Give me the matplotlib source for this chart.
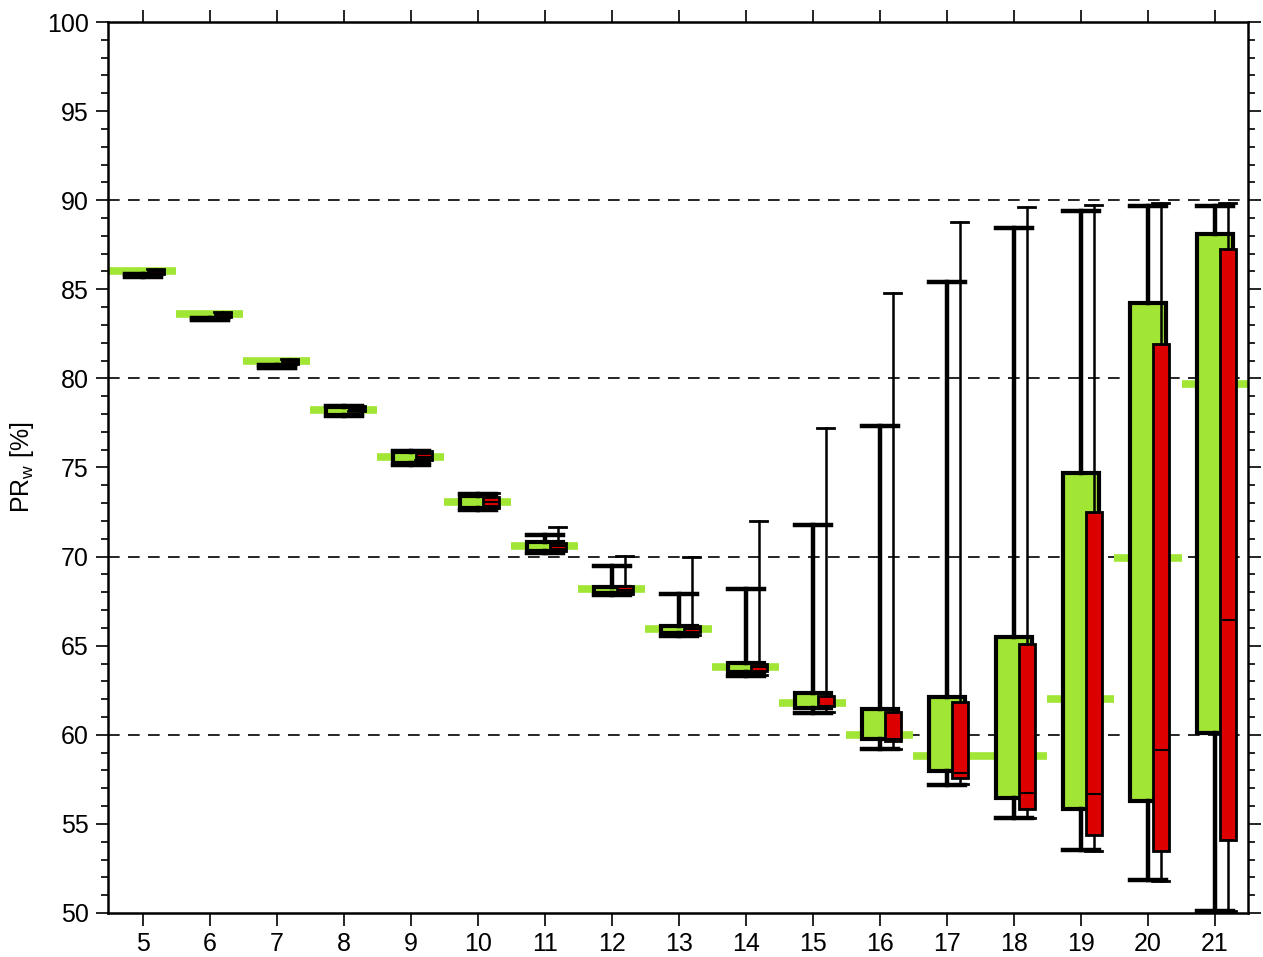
import matplotlib
matplotlib.use("Agg")
import matplotlib.pyplot as plt
from matplotlib.ticker import MultipleLocator

plt.rcParams['font.family'] = ['Liberation Sans', 'DejaVu Sans']
plt.rcParams['mathtext.fontset'] = 'custom'
plt.rcParams['mathtext.rm'] = 'Liberation Sans'

# --- data ---
cats = [5, 6, 7, 8, 9, 10, 11, 12, 13, 14, 15, 16, 17, 18, 19, 20, 21]
ref = [86.0, 83.6, 80.95, 78.25, 75.6, 73.05, 70.6, 68.2, 65.95, 63.8,
       61.8, 60.0, 58.8, 58.8, 62.0, 69.9, 79.7]

green_lo = [85.7, 83.25, 80.57, 77.9, 75.15, 72.6, 70.2, 67.85, 65.55, 63.32,
            61.2, 59.2, 57.2, 55.35, 53.55, 51.85, 50.1]
green_q1 = [85.75, 83.28, 80.6, 77.95, 75.25, 72.7, 70.3, 67.95, 65.73, 63.55,
            61.5, 59.75, 57.95, 56.45, 55.85, 56.3, 60.1]
green_q3 = [85.8, 83.35, 80.72, 78.4, 75.85, 73.4, 70.8, 68.3, 66.1, 64.05,
            62.35, 61.45, 62.1, 65.5, 74.7, 84.25, 88.1]
green_hi = [85.85, 83.38, 80.75, 78.45, 75.95, 73.5, 71.2, 69.45, 67.9, 68.16,
            71.8, 77.35, 85.4, 88.45, 89.4, 89.7, 89.65]

red_lo = [85.85, 83.43, 80.8, 78.15, 75.4, 72.75, 70.3, 67.9, 65.6, 63.35,
          61.26, 59.2, 57.25, 55.35, 53.5, 51.8, 50.1]
red_q1 = [85.9, 83.5, 80.85, 78.2, 75.5, 72.85, 70.45, 68.0, 65.75, 63.6,
          61.6, 59.65, 57.6, 55.85, 54.4, 53.5, 54.1]
red_med = [86.0, 83.6, 80.95, 78.3, 75.6, 73.05, 70.6, 68.15, 65.95, 63.8,
           61.62, 59.75, 57.85, 56.75, 56.65, 59.15, 66.45]
red_q3 = [86.1, 83.68, 81.02, 78.4, 75.8, 73.35, 70.75, 68.35, 66.1, 64.0,
          62.2, 61.3, 61.85, 65.1, 72.5, 81.95, 87.25]
red_hi = [86.15, 83.72, 81.07, 78.45, 75.95, 73.55, 71.65, 70.05, 70.0, 72.01,
          77.2, 84.8, 88.75, 89.6, 89.75, 89.85, 89.85]

green_col = '#a2e635'
red_col = '#dd0000'

fig = plt.figure(figsize=(12.63, 9.57), dpi=100)
ax = fig.add_axes([0.0855, 0.046, 0.9025, 0.931])

# reference grid lines
for yv in [60, 70, 80, 90]:
    ax.axhline(yv, color='black', lw=1.2, ls=(0, (7, 5)), zorder=1)

# reference markers
ax.hlines(ref, [c - 0.5 for c in cats], [c + 0.5 for c in cats],
          color=green_col, lw=5.5, zorder=2)

green_stats = [dict(whislo=lo, q1=q1, med=q1, q3=q3, whishi=hi, fliers=[])
               for lo, q1, q3, hi in zip(green_lo, green_q1, green_q3, green_hi)]
red_stats = [dict(whislo=lo, q1=q1, med=md, q3=q3, whishi=hi, fliers=[])
             for lo, q1, md, q3, hi in zip(red_lo, red_q1, red_med, red_q3, red_hi)]

gb = ax.bxp(green_stats, positions=cats, widths=0.54, capwidths=0.54,
            patch_artist=True, showfliers=False, manage_ticks=False,
            boxprops=dict(facecolor=green_col, edgecolor='black', linewidth=3.0),
            whiskerprops=dict(color='black', linewidth=3.2),
            capprops=dict(color='black', linewidth=3.2),
            medianprops=dict(visible=False))
for art in gb['boxes'] + gb['whiskers'] + gb['caps']:
    art.set_zorder(3)

rpos = [c + 0.19 for c in cats]
rb = ax.bxp(red_stats, positions=rpos, widths=0.24, capwidths=0.25,
            patch_artist=True, showfliers=False, manage_ticks=False,
            boxprops=dict(facecolor=red_col, edgecolor='black', linewidth=2.0),
            whiskerprops=dict(color='black', linewidth=1.8),
            capprops=dict(color='black', linewidth=2.0),
            medianprops=dict(color='black', linewidth=1.5))
for art in rb['boxes'] + rb['whiskers'] + rb['caps'] + rb['medians']:
    art.set_zorder(4)

ax.set_xlim(4.48, 21.49)
ax.set_ylim(50, 100)
ax.set_xticks(cats)
ax.set_xticklabels([str(c) for c in cats])
ax.yaxis.set_major_locator(MultipleLocator(5))
ax.yaxis.set_minor_locator(MultipleLocator(1))

ax.tick_params(axis='both', which='major', direction='out', length=9, width=1.2,
               labelsize=18, pad=5)
ax.tick_params(axis='y', which='minor', direction='out', length=5, width=1.2)
ax.tick_params(axis='x', top=True, labeltop=False)
ax.tick_params(axis='y', which='both', right=True, labelright=False)
for sp in ax.spines.values():
    sp.set_linewidth(1.8)

ax.set_ylabel('PR$_\\mathregular{w}$ [%]', fontsize=18, labelpad=8)

fig.savefig('out.png', dpi=100)
